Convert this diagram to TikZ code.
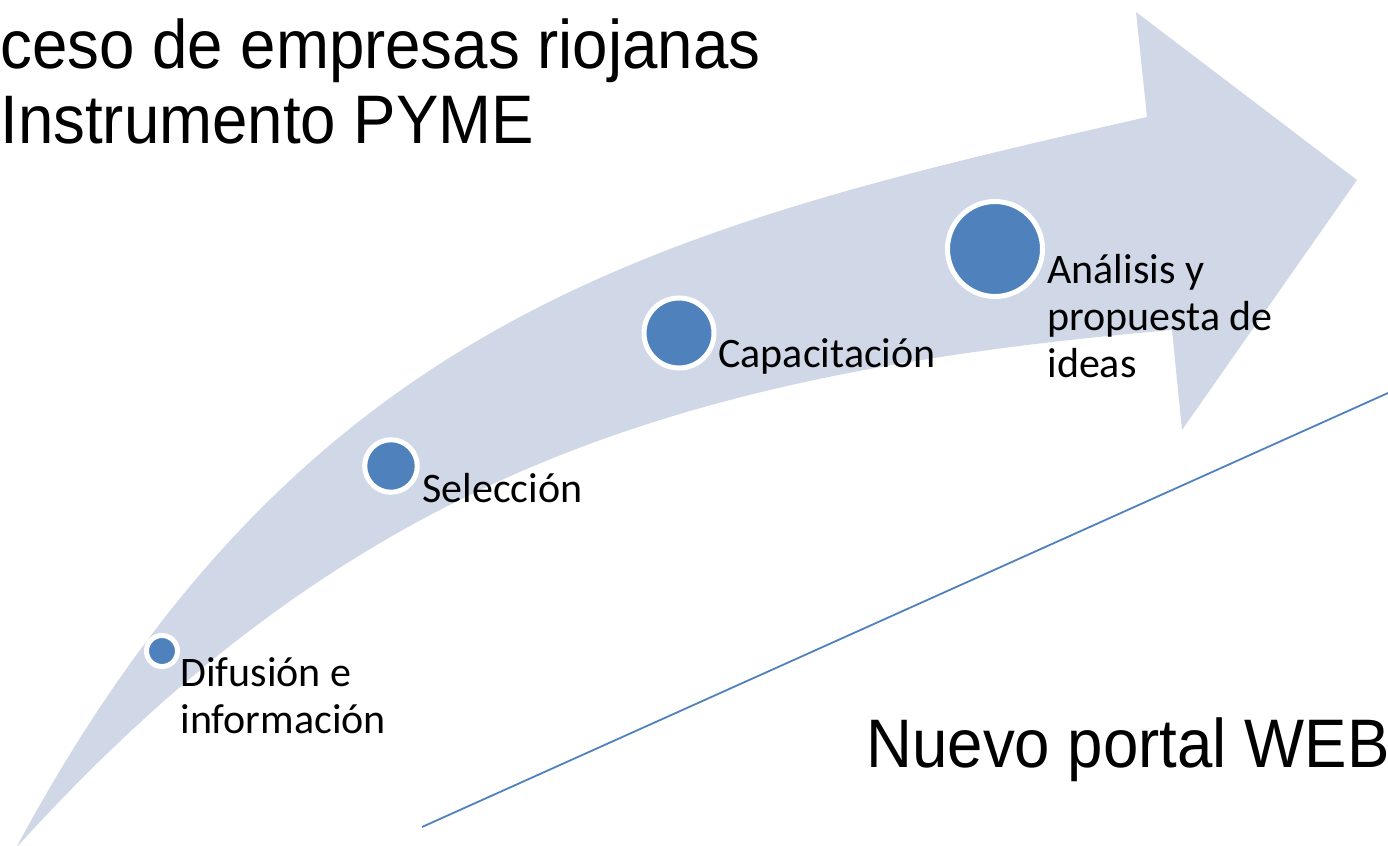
\documentclass[tikz,border=0pt]{standalone}
\usepackage{fontspec}
\setmainfont{Liberation Sans}
\newfontfamily\labelfont{Carlito}
\usetikzlibrary{positioning}
\definecolor{bandcol}{RGB}{208,216,232}
\definecolor{dotcol}{RGB}{79,129,189}
\newcommand{\tallline}[1]{\scalebox{1}[1.08]{#1}}

\begin{document}
\begin{tikzpicture}[
            x=0.5pt, y=-0.5pt,
            dot/.style={ circle, fill=dotcol, draw=white, line width=2.5pt, inner sep=0pt },
            steplabel/.style={ font=\labelfont\fontsize{21}{23.4}\selectfont, align=left, anchor=base west, inner sep=0pt },
            bigtext/.style={ font=\fontsize{31.8}{37.5}\selectfont, align=left, anchor=base west, inner sep=0pt }
        ]
        \useasboundingbox (0,0) rectangle (1388,846);
        \clip (0,0) rectangle (1388,846);

        \fill[bandcol] (16,848) .. controls (302,316) and (659,228) .. (1147,117)
            -- (1136,12) -- (1357,180) -- (1182,430) -- (1172,330)
            .. controls (674,373) and (351,478) .. (16,848) -- cycle;

        \node[bigtext] (title) at (0,143) {\tallline{ceso de empresas riojanas}\\\tallline{Instrumento PYME}};
        \node[bigtext] (portal) at (866,767) {\tallline{Nuevo portal WEB}};

        \coordinate (webstart) at (422,827);
        \coordinate (webend) at (1388,393);
        \draw[dotcol, line width=0.9pt] (webstart) -- (webend);

        \node[dot, minimum size=15.5pt ] (dif) at (162,651) {};
        \node[dot, minimum size=26.25pt] (sel) at (391,466) {};
        \node[dot, minimum size=35pt   ] (cap) at (679,333) {};
        \node[dot, minimum size=47.5pt ] (ana) at (995,249) {};

        \node[steplabel] (diflab) at (180,733) {Difusión e\\información};
        \node[steplabel] (sellab) at (422,502) {Selección};
        \node[steplabel] (caplab) at (718,367) {Capacitación};
        \node[steplabel] (analab) at (1047,377) {Análisis y\\propuesta de\\ideas};
    \end{tikzpicture}
\end{document}
